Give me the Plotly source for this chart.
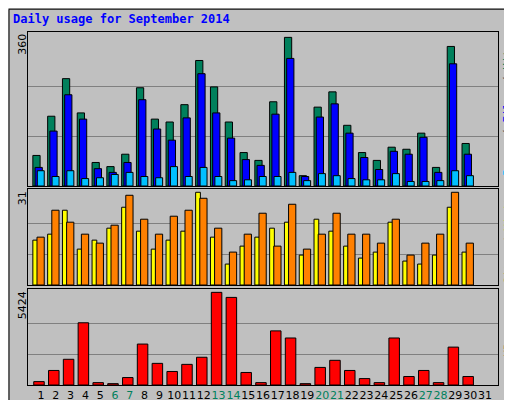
import plotly.graph_objects as go

days = list(range(1, 31))
hits = [74,169,260,177,57,47,77,238,162,155,197,304,240,155,81,62,204,360,25,191,228,147,81,62,94,89,128,45,338,103]
files = [45,133,221,162,42,33,57,209,138,111,165,272,177,116,64,50,174,309,23,167,199,128,69,40,84,77,118,33,296,77]
pages = [37,23,37,18,20,28,33,23,20,47,23,45,23,13,15,23,23,33,13,30,25,18,15,15,30,11,11,13,37,25]
visits = [16,25,21,17,14,20,30,22,17,23,25,29,19,11,17,24,13,27,12,17,24,17,17,14,22,10,14,17,31,14]
sites = [15,17,25,12,15,19,26,18,12,15,18,31,16,7,13,16,19,21,10,22,18,13,9,11,21,8,7,10,26,11]
kbytes = [198,851,1505,3643,139,79,436,2396,1267,792,1208,1624,5424,5128,733,139,3168,2752,79,1030,1445,851,376,139,2752,495,851,139,2218,495]
weekends = {6,7,13,14,20,21,27,28}
tick_days = list(range(1, 32))
tick_text = [f"<span style='color:#00805c'>{d}</span>" if d in weekends else str(d) for d in tick_days]

fig = go.Figure()
line = dict(color="black", width=1)
def bar(y, color, off, w, xa, ya):
    fig.add_trace(go.Bar(x=days, y=y, marker=dict(color=color, line=line), offset=off, width=w,
                         xaxis=xa, yaxis=ya, showlegend=False))
bar(hits, "#00805c", -0.55, 0.49, "x", "y")
bar(files, "#0000ff", -0.4, 0.49, "x", "y")
bar(pages, "#00c0ff", -0.25, 0.47, "x", "y")
bar(sites, "#ffff00", -0.55, 0.32, "x2", "y2")
bar(visits, "#ff8000", -0.27, 0.49, "x2", "y2")
bar(kbytes, "#ff0000", -0.49, 0.71, "x3", "y3")

xd = [0.039, 0.957]
xr = [0.12, 31.88]
common_x = dict(range=xr, domain=xd, showgrid=False, zeroline=False, showline=True, linecolor="black", mirror=True)
ycommon = dict(showticklabels=False, gridcolor="#808080", zeroline=False, showline=True, linecolor="black", mirror=True)
fig.update_layout(
    width=512, height=400, margin=dict(l=0, r=0, t=0, b=0),
    paper_bgcolor="#c0c0c0", plot_bgcolor="#c0c0c0", barmode="overlay",
    font=dict(family="DejaVu Sans Mono", size=11, color="black"),
    xaxis=dict(**common_x, anchor="y", showticklabels=False, ticks=""),
    xaxis2=dict(**common_x, anchor="y2", showticklabels=False, ticks=""),
    xaxis3=dict(**common_x, anchor="y3", tickvals=tick_days, ticktext=tick_text, ticks="", tickangle=0,
                automargin=False, tickfont=dict(family="DejaVu Sans", size=11)),
    yaxis=dict(domain=[0.555, 0.94], range=[0, 373], tickvals=[120, 240], anchor="x", **ycommon),
    yaxis2=dict(domain=[0.3075, 0.5475], range=[0, 32.1], tickvals=[10.33, 20.67], anchor="x2", **ycommon),
    yaxis3=dict(domain=[0.0575, 0.2975], range=[0, 5620], tickvals=[1808, 3616], anchor="x3", **ycommon),
)

ann = [
    dict(x=0.005, y=0.995, text="<b>Daily usage for September 2014</b>", font=dict(color="#0000ff", size=12, family="DejaVu Sans Mono"), xanchor="left", yanchor="top"),
    dict(x=0.028, y=0.94, text="360", textangle=-90, yanchor="top", font=dict(size=11, family="DejaVu Sans", color="black")),
    dict(x=0.028, y=0.5475, text="31", textangle=-90, yanchor="top", font=dict(size=11, family="DejaVu Sans", color="black")),
    dict(x=0.028, y=0.2975, text="5424", textangle=-90, yanchor="top", font=dict(size=11, family="DejaVu Sans", color="black")),
    dict(x=0.976, y=0.7475, text="<span style='color:#00c0ff'>Pages</span> / <span style='color:#0000ff'>Files</span> / <span style='color:#00805c'>Hits</span>", textangle=-90),
    dict(x=0.976, y=0.4275, text="<span style='color:#ff8000'>Sites</span> / <span style='color:#ffff00'>Visits</span>", textangle=-90),
    dict(x=0.976, y=0.1775, text="<span style='color:#ff0000'>KBytes</span>", textangle=-90),
]
for a in ann:
    a.setdefault("xanchor", "center"); a.setdefault("yanchor", "middle")
    a.setdefault("font", dict(size=11, family="DejaVu Sans Mono", color="#404040"))
    fig.add_annotation(xref="paper", yref="paper", showarrow=False, **a)

fig.add_shape(type="rect", xref="paper", yref="paper", x0=0.002, y0=0.003, x1=0.998, y1=0.997,
              line=dict(color="black", width=1))
fig.write_html("out.html")
